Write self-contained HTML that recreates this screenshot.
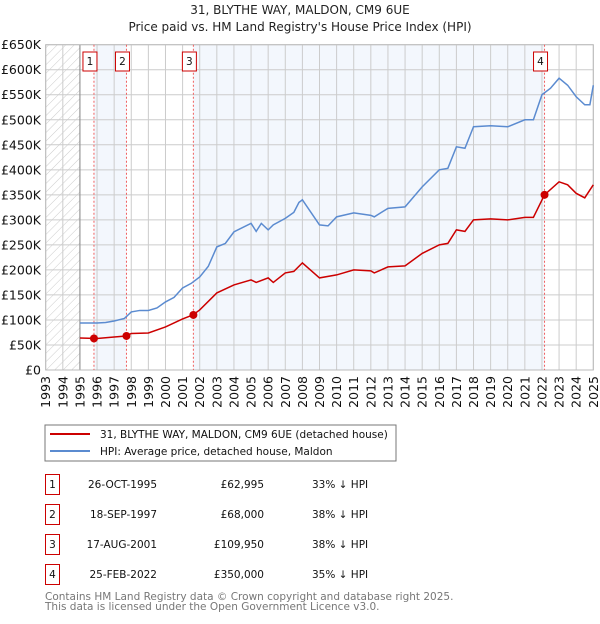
<!DOCTYPE html>
<html><head><meta charset="utf-8"><style>
body{margin:0;background:#fff;width:600px;height:620px;overflow:hidden;font-family:"DejaVu Sans","Liberation Sans",sans-serif;}
svg text{font-family:"DejaVu Sans","Liberation Sans",sans-serif;}
</style></head><body>
<svg id="c" width="600" height="620" xmlns="http://www.w3.org/2000/svg">
<defs><pattern id="hatch" width="6" height="6" patternUnits="userSpaceOnUse" patternTransform="rotate(45)"><line x1="0" y1="0" x2="0" y2="6" stroke="#ccc" stroke-width="1"/></pattern></defs>
<text x="300" y="14" text-anchor="middle" font-size="12" fill="#222">31, BLYTHE WAY, MALDON, CM9 6UE</text>
<text x="300" y="31" text-anchor="middle" font-size="12" fill="#222">Price paid vs. HM Land Registry's House Price Index (HPI)</text>
<g id="plot"></g>
<rect x="45" y="425" width="351" height="36" fill="#fff" stroke="#777"/>
<line x1="50" y1="434" x2="90" y2="434" stroke="#cc0000" stroke-width="2"/>
<text x="100" y="438" font-size="10.5" fill="#111">31, BLYTHE WAY, MALDON, CM9 6UE (detached house)</text>
<line x1="50" y1="451" x2="90" y2="451" stroke="#5b8bd0" stroke-width="2"/>
<text x="100" y="455" font-size="10.5" fill="#111">HPI: Average price, detached house, Maldon</text>
<g id="tbl" font-size="10.5" fill="#111"></g>
<text x="45" y="600" font-size="10.5" fill="#777">Contains HM Land Registry data © Crown copyright and database right 2025.</text>
<text x="45" y="610" font-size="10.5" fill="#777">This data is licensed under the Open Government Licence v3.0.</text>
</svg>
<script>
const hpiYears=[1995,1996,1996.5,1997,1997.6,1998,1998.5,1999,1999.5,2000,2000.5,2001,2001.5,2002,2002.5,2003,2003.5,2004,2005,2005.3,2005.6,2006,2006.3,2007,2007.5,2007.8,2008,2009,2009.5,2010,2011,2012,2012.2,2013,2014,2015,2016,2016.5,2017,2017.5,2018,2019,2020,2021,2021.5,2022,2022.5,2023,2023.5,2024,2024.5,2024.8,2025];
const hpiValues=[94,94,95,98,103,116,119,119,124,136,145,164,173,186,207,246,253,276,293,277,293,280,290,303,315,335,340,290,288,306,314,309,306,323,326,366,400,403,446,443,486,488,486,500,500,550,563,583,569,546,530,530,569];
const priceYears=[1995,1996,1997,1997.7,1998,1999,2000,2001,2001.6,2002,2003,2004,2005,2005.3,2006,2006.3,2007,2007.5,2008,2009,2010,2011,2012,2012.2,2013,2014,2015,2016,2016.5,2017,2017.5,2018,2019,2020,2021,2021.5,2022.15,2023,2023.5,2024,2024.5,2025];
const priceValues=[64,63,66,68,73,74,86,102,110,120,154,170,180,175,184,175,194,197,214,184,190,200,198,194,206,208,233,250,253,280,277,300,302,300,305,305,350,376,370,353,344,370];
const saleYears=[1995.82,1997.72,2001.63,2022.15];
const saleValues=[62.995,68,109.95,350];
const saleLabels=["1","2","3","4"];
const saleDates=["26-OCT-1995","18-SEP-1997","17-AUG-2001","25-FEB-2022"];
const salePrices=["£62,995","£68,000","£109,950","£350,000"];
const saleDiffs=["33% ↓ HPI","38% ↓ HPI","38% ↓ HPI","35% ↓ HPI"];
const yTicks=[0,50,100,150,200,250,300,350,400,450,500,550,600,650];
const yTickLabels=["£0","£50K","£100K","£150K","£200K","£250K","£300K","£350K","£400K","£450K","£500K","£550K","£600K","£650K"];
const xTicks=[1993,1994,1995,1996,1997,1998,1999,2000,2001,2002,2003,2004,2005,2006,2007,2008,2009,2010,2011,2012,2013,2014,2015,2016,2017,2018,2019,2020,2021,2022,2023,2024,2025];

const NS="http://www.w3.org/2000/svg";
const L=45.7,R=593.3,T=44.7,B=370;
const X=y=>L+(y-1993)*(R-L)/32;
const Y=v=>B-v*(B-T)/650;
const g=document.getElementById('plot');
function mk(tag,at,parent){const e=document.createElementNS(NS,tag);for(const k in at)e.setAttribute(k,at[k]);(parent||g).appendChild(e);return e;}

let e;
e=mk('rect',{x:X(1993),y:T,width:X(1995)-X(1993),height:B-T,fill:'url(#hatch)'});


e=mk('rect',{x:X(saleYears[0]),y:T,width:X(saleYears[1])-X(saleYears[0]),height:B-T,fill:'#eef3fc',opacity:0.7});


e=mk('rect',{x:X(saleYears[2]),y:T,width:X(saleYears[3])-X(saleYears[2]),height:B-T,fill:'#eef3fc',opacity:0.7});


yTicks.forEach((v,i)=>{
  e=mk('line',{x1:L,x2:R,y1:Y(v),y2:Y(v),stroke:'#ccc','stroke-width':1});
  
  
  e=mk('text',{x:41,y:Y(v)+4.5,'text-anchor':'end','font-size':12.5,fill:'#111'});
  e.textContent=yTickLabels[i];
  
  
});
xTicks.forEach(yr=>{
  e=mk('line',{x1:X(yr),x2:X(yr),y1:T,y2:B,stroke:'#ccc','stroke-width':1});
  
  
  e=mk('text',{x:0,y:0,'text-anchor':'end','font-size':12.5,fill:'#111',transform:`translate(${X(yr)+4.5},${B+6}) rotate(-90)`});
  e.textContent=yr;
  
  
});
e=mk('line',{x1:X(1995),x2:X(1995),y1:T,y2:B,stroke:'#888'});


e=mk('rect',{x:L,y:T,width:R-L,height:B-T,fill:'none',stroke:'#bbb'});


saleYears.forEach((yr,i)=>{
  e=mk('line',{x1:X(yr),x2:X(yr),y1:T,y2:B,stroke:'#f06060','stroke-dasharray':'2,2'});
  
  
});
e=mk('polyline',{points:hpiYears.map((y,i)=>X(y)+','+Y(hpiValues[i])).join(' '),fill:'none',stroke:'#5b8bd0','stroke-width':1.5});


e=mk('polyline',{points:priceYears.map((y,i)=>X(y)+','+Y(priceValues[i])).join(' '),fill:'none',stroke:'#cc0000','stroke-width':1.5});


saleYears.forEach((yr,i)=>{
  e=mk('circle',{cx:X(yr),cy:Y(saleValues[i]),r:4,fill:'#cc0000'});
  
  
  const cx=X(yr)-4;
  e=mk('rect',{x:cx-7,y:52,width:14,height:19,fill:'#fff',stroke:'#cc0000'});
  
  
  e=mk('text',{x:cx,y:65,'text-anchor':'middle','font-size':10.5,fill:'#111'});
  e.textContent=saleLabels[i];
  
  
});
const t=document.getElementById('tbl');
saleLabels.forEach((lb,i)=>{
  const cy=484+i*30;
  e=mk('rect',{x:45.5,y:cy-9.5,width:14,height:20,fill:'#fff',stroke:'#cc0000'},t);
  
  
  e=mk('text',{x:52.5,y:cy+4,'text-anchor':'middle'},t);e.textContent=lb;
  
  
  e=mk('text',{x:157,y:cy+4,'text-anchor':'end'},t);e.textContent=saleDates[i];
  
  
  e=mk('text',{x:264,y:cy+4,'text-anchor':'end'},t);e.textContent=salePrices[i];
  
  
  e=mk('text',{x:312,y:cy+4},t);e.textContent=saleDiffs[i];
  
  
});
</script>
</body></html>
